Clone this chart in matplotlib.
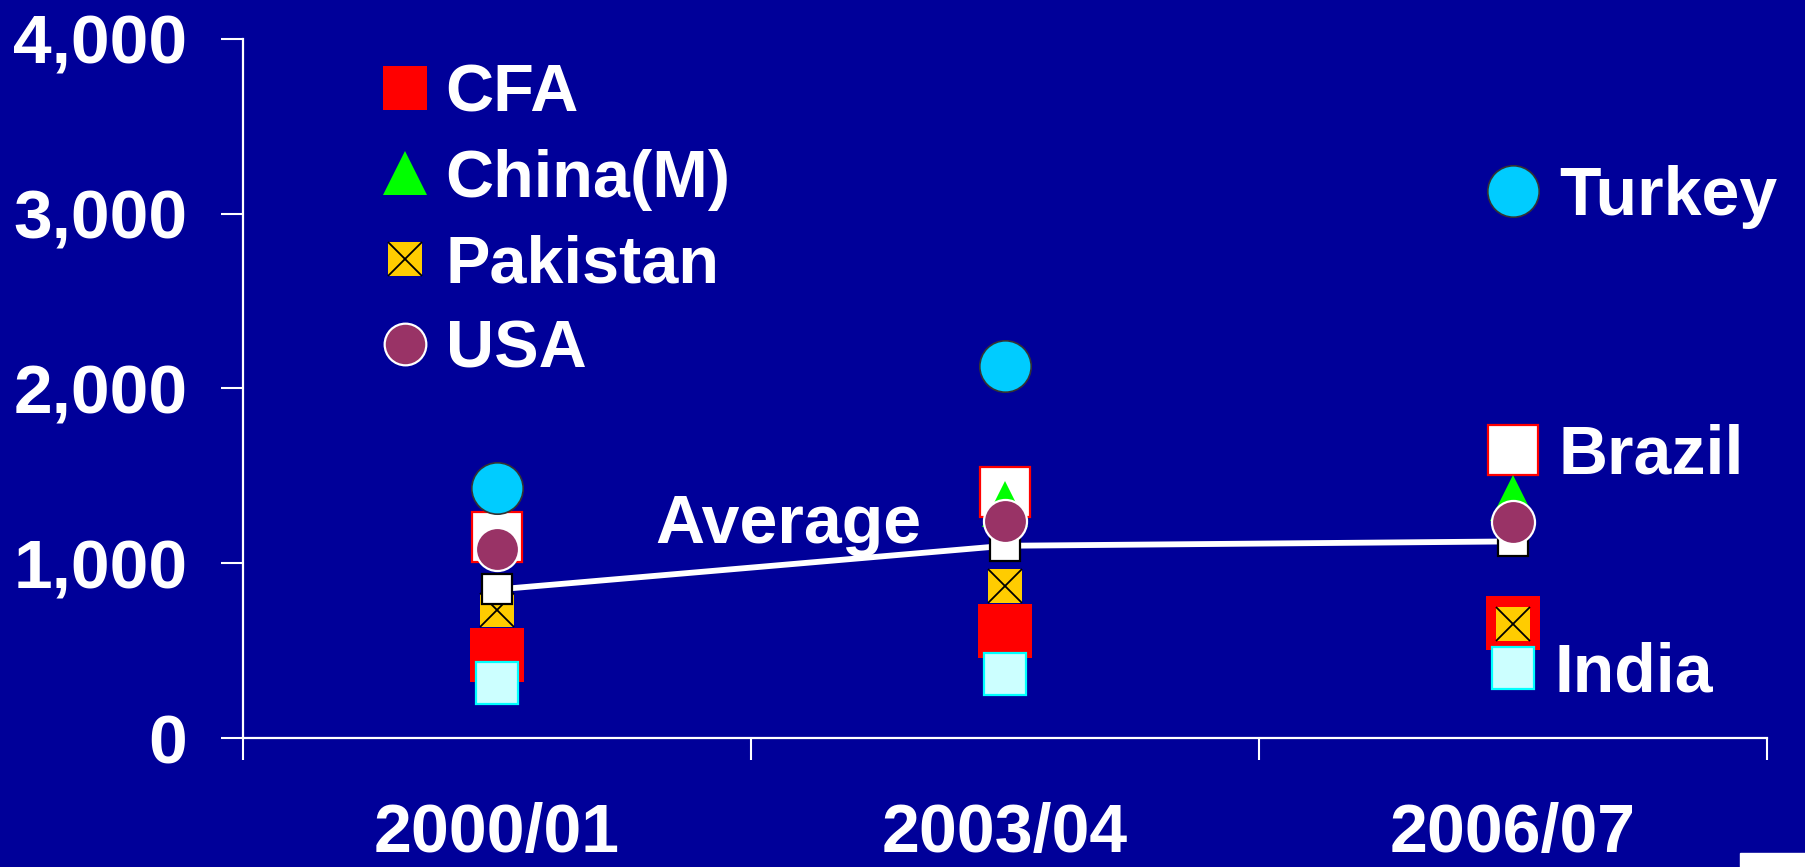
import numpy as np
import matplotlib.pyplot as plt
from matplotlib.lines import Line2D
from matplotlib.patches import Rectangle
from matplotlib.ticker import StrMethodFormatter

seasons = ["2000/01", "2003/04", "2006/07"]

cfa = [475, 610, 660]
china = [np.nan, 1340, 1375]
pakistan = [735, 870, 650]
usa = [1080, 1240, 1235]
turkey = [1430, 2130, 3130]
brazil = [1150, 1410, 1650]
india = [315, 365, 400]
average = [850, 1100, 1125]

BG = "#000099"

plt.rcParams["font.family"] = ["Liberation Sans", "DejaVu Sans"]
plt.rcParams["font.weight"] = "bold"

fig = plt.figure(figsize=(18.05, 8.67), dpi=100, facecolor=BG)
ax = fig.add_axes([243 / 1805, 129 / 867, 1524 / 1805, 699 / 867])
ax.set_facecolor(BG)

x = np.arange(len(seasons))

# series styles
styles = {
    "Brazil": dict(marker="s", ms=36, mfc="white", mec="#FF0000", mew=1.6),
    "China(M)": dict(marker="^", ms=33, mfc="#00FF00", mec="#00FF00", mew=0),
    "CFA": dict(marker="s", ms=39, mfc="#FF0000", mec="#FF0000", mew=0),
    "India": dict(marker="s", ms=30, mfc="#CCFFFF", mec="#00FFFF", mew=1.6),
    "Pakistan": dict(marker="s", ms=24, mfc="#FFCC00", mec="#FFCC00", mew=0),
    "USA": dict(marker="o", ms=31, mfc="#993366", mec="white", mew=1.6),
    "Turkey": dict(marker="o", ms=37, mfc="#00CCFF", mec="#333333", mew=1.2),
}
cross = dict(marker="x", mec="black", mew=1.3)
values = {"Brazil": brazil, "China(M)": china, "CFA": cfa, "India": india,
          "Pakistan": pakistan, "USA": usa, "Turkey": turkey}

# back to front
z = 3
for name in ["Brazil", "China(M)", "CFA", "India", "Pakistan"]:
    ax.plot(x, values[name], ls="none", zorder=z, **styles[name])
    z += 1
ax.plot(x, pakistan, ls="none", ms=24, zorder=z, **cross)
z += 1

# average line
ax.plot(x, average, color="white", lw=4.2, zorder=z,
        marker="s", ms=21, mfc="white", mec="black", mew=1.6)
z += 1
for name in ["USA", "Turkey"]:
    ax.plot(x, values[name], ls="none", zorder=z, **styles[name])
    z += 1

# labels next to points
ax.annotate("Average", (x[1], average[1]), xytext=(-60, 2), textcoords="offset points",
            ha="right", va="baseline", color="white", fontsize=49, fontweight="bold")
for name, vals, dx in [("Turkey", turkey, 33), ("Brazil", brazil, 33), ("India", india, 30)]:
    ax.annotate(name, (x[2], vals[2]), xytext=(dx, -17), textcoords="offset points",
                ha="left", va="baseline", color="white", fontsize=49, fontweight="bold",
                annotation_clip=False)

# legend
leg_sizes = {"CFA": 31, "China(M)": 32, "Pakistan": 24, "USA": 30}
handles = []
for name in leg_sizes:
    st = dict(styles[name])
    st["ms"] = leg_sizes[name]
    h = Line2D([], [], ls="none", **st)
    if name == "Pakistan":
        h = (h, Line2D([], [], ls="none", ms=leg_sizes[name], **cross))
    handles.append(h)
leg = ax.legend(handles, list(leg_sizes), loc="upper left", bbox_to_anchor=(0.0866, 0.965),
                frameon=False, fontsize=48, labelspacing=0.35, handlelength=0.9,
                handletextpad=0.16, borderpad=0, borderaxespad=0)
for t in leg.get_texts():
    t.set_color("white")
    t.set_fontweight("bold")

ax.set_xlim(-0.5, 2.5)
ax.set_ylim(0, 4000)
ax.set_xticks([-0.5, 0.5, 1.5, 2.5])
ax.set_xticklabels([])
ax.set_xticks(x, seasons, minor=True)
ax.tick_params(axis="x", which="major", direction="out", length=16, width=1.5, color="white")
ax.tick_params(axis="x", which="minor", length=0, pad=46, labelsize=49, labelcolor="white")
ax.set_yticks([0, 1000, 2000, 3000, 4000])
ax.yaxis.set_major_formatter(StrMethodFormatter("{x:,.0f}"))
ax.tick_params(axis="y", direction="out", length=16, width=1.5, color="white",
               pad=24, labelsize=50, labelcolor="white")
for lab in ax.get_xticklabels(minor=True) + ax.get_yticklabels():
    lab.set_fontweight("bold")

for side in ["top", "right"]:
    ax.spines[side].set_visible(False)
for side in ["left", "bottom"]:
    ax.spines[side].set_color("white")
    ax.spines[side].set_linewidth(1.6)

# cropped logo box in the corner
fig.patches.append(Rectangle((1740 / 1805, 0), 65 / 1805, 14 / 867,
                             transform=fig.transFigure, color="white"))

fig.savefig("out.png", dpi=100, facecolor=BG)
